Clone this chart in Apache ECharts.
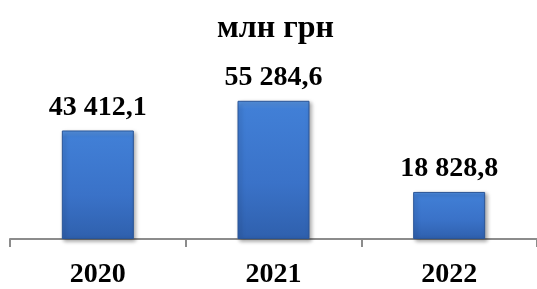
<!DOCTYPE html>
<html lang="uk" style="height: 100%">
<head>
    <meta charset="UTF-8">
    <title>млн грн</title>
    <script src="https://cdn.jsdelivr.net/npm/echarts@6/dist/echarts.min.js"></script>
</head>
<body style="height: 100%; margin: 0">
<div id="main" style="width: 537px; height: 289px"></div>
<script>
    var years = ['2020', '2021', '2022'];
    var values = [43412.1, 55284.6, 18828.8];
    var titleText = 'млн грн';

    function fmt(v) {
        var parts = v.toFixed(1).split('.');
        return parts[0].replace(/\B(?=(\d{3})+(?!\d))/g, ' ') + ',' + parts[1];
    }

    var serif = '"Liberation Serif", "Times New Roman", serif';

    var myChart = echarts.init(document.getElementById('main'));
    myChart.setOption({
        animation: false,
        title: {
            text: titleText,
            left: 212,
            top: 8,
            textStyle: { fontFamily: serif, fontSize: 32, fontWeight: 'bold', color: '#000' }
        },
        grid: { left: 10, right: -4, top: 89, bottom: 48 },
        xAxis: {
            type: 'category',
            data: years,
            axisLine: { lineStyle: { color: '#8c8c8c', width: 2 } },
            axisTick: { show: true, length: 8, interval: 0, lineStyle: { color: '#8c8c8c', width: 2 } },
            axisLabel: {
                margin: 22,
                fontFamily: serif,
                fontSize: 28,
                fontWeight: 'bold',
                color: '#000'
            }
        },
        yAxis: {
            type: 'value',
            min: 0,
            max: 60000,
            show: false,
            splitLine: { show: false }
        },
        series: [{
            type: 'bar',
            data: values,
            barWidth: 72,
            itemStyle: {
                color: new echarts.graphic.LinearGradient(0, 0, 0, 1, [
                    { offset: 0, color: '#5794e0' },
                    { offset: 0.06, color: '#417fd6' },
                    { offset: 0.6, color: '#3a72c8' },
                    { offset: 1, color: '#2f60ad' }
                ]),
                borderColor: '#2a5597',
                borderWidth: 1,
                shadowColor: 'rgba(0,0,0,0.35)',
                shadowBlur: 4,
                shadowOffsetX: 2,
                shadowOffsetY: 2
            },
            label: {
                show: true,
                position: 'top',
                distance: 9,
                formatter: function (p) { return fmt(p.value); },
                fontFamily: serif,
                fontSize: 28,
                fontWeight: 'bold',
                color: '#000'
            }
        }]
    });
</script>
</body>
</html>
